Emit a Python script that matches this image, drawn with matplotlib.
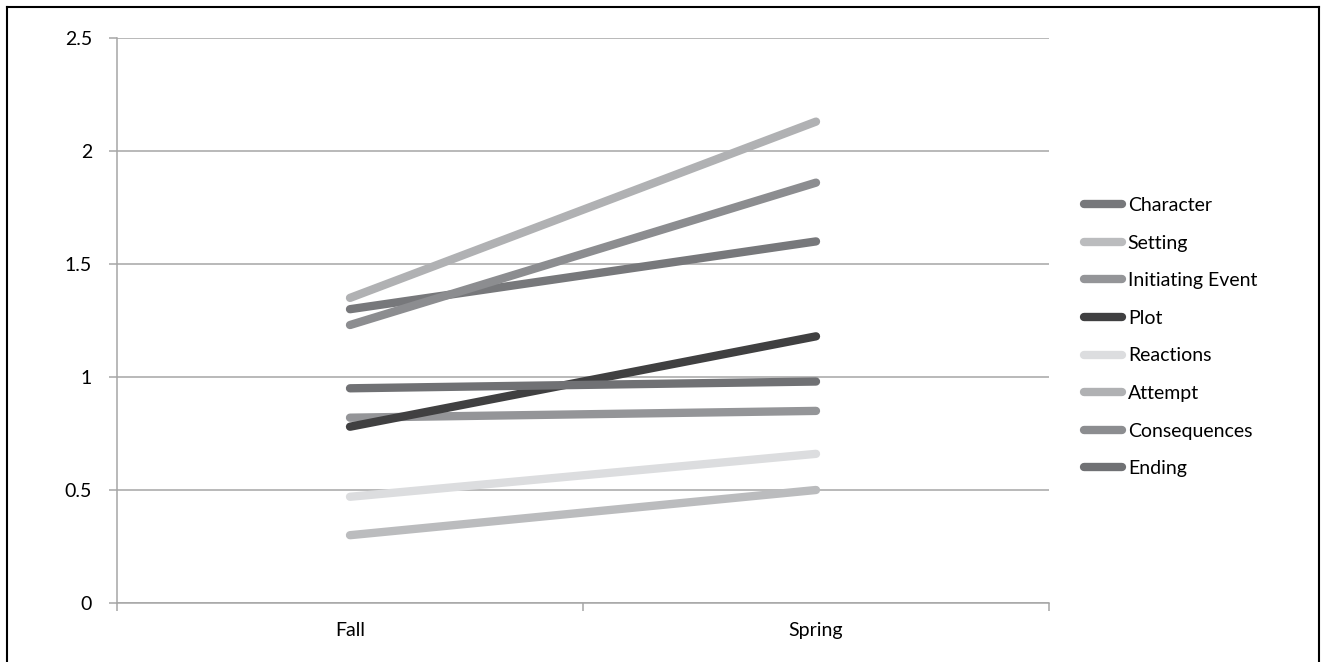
import matplotlib.pyplot as plt
from matplotlib.lines import Line2D

plt.rcParams['font.family'] = ['Lato', 'DejaVu Sans']

# data
seasons = ['Fall', 'Spring']
series_names = ['Character', 'Setting', 'Initiating Event', 'Plot',
                'Reactions', 'Attempt', 'Consequences', 'Ending']
character = [1.30, 1.60]
setting = [0.30, 0.50]
initiating = [0.82, 0.85]
plot_vals = [0.78, 1.18]
reactions = [0.47, 0.66]
attempt = [1.35, 2.13]
consequences = [1.23, 1.86]
ending = [0.95, 0.98]
y_ticks = [0, 0.5, 1, 1.5, 2, 2.5]
y_tick_labels = ['0', '0.5', '1', '1.5', '2', '2.5']

all_series = [character, setting, initiating, plot_vals,
              reactions, attempt, consequences, ending]
colors = ['#77787b', '#bbbcbe', '#949598', '#404041',
          '#dcdddf', '#b0b1b3', '#8c8d90', '#707174']

W, H = 1323, 662
fig = plt.figure(figsize=(W / 100, H / 100), dpi=100)
ax = fig.add_axes([117 / W, 1 - 603 / H, (1049 - 117) / W, (603 - 38) / H])

grid_col = '#a6a6a6'
for v in y_ticks:
    ax.axhline(v, color=grid_col, lw=1.1, zorder=1)

x = list(range(len(seasons)))
for name, vals, c in zip(series_names, all_series, colors):
    ax.plot(x, vals, color=c, lw=6, solid_capstyle='round', label=name, zorder=3)

ax.set_xlim(-0.5, 1.5)
ax.set_ylim(0, 2.5)
ax.set_yticks(y_ticks)
ax.set_yticklabels(y_tick_labels)
ax.set_xticks(x)
ax.set_xticklabels(seasons)
ax.set_xticks([-0.5, 0.5, 1.5], minor=True)
ax.tick_params(axis='x', which='major', length=0, pad=14, labelsize=14)
ax.tick_params(axis='x', which='minor', length=6, color=grid_col, width=1.1)
ax.tick_params(axis='y', length=6, color=grid_col, width=1.1, pad=12, labelsize=14)

for side in ['top', 'right']:
    ax.spines[side].set_visible(False)
for side in ['left', 'bottom']:
    ax.spines[side].set_color(grid_col)
    ax.spines[side].set_linewidth(1.1)

handles = [Line2D([0], [0], color=c, lw=6, solid_capstyle='round') for c in colors]
fig.legend(handles, series_names, loc='upper left',
           bbox_to_anchor=(1084 / W, 1 - 197 / H), frameon=False,
           fontsize=14, handlelength=1.95, handletextpad=0.3,
           labelspacing=1.06, borderaxespad=0, borderpad=0)

# black frame around the figure (no bottom edge)
fig.add_artist(Line2D([6.5 / W, 6.5 / W], [0, 1 - 6.5 / H], color='black', lw=1.5))
fig.add_artist(Line2D([6.5 / W, 1318.5 / W], [1 - 6.5 / H, 1 - 6.5 / H], color='black', lw=1.5))
fig.add_artist(Line2D([1318.5 / W, 1318.5 / W], [0, 1 - 6.5 / H], color='black', lw=1.5))

fig.savefig('out.png', dpi=100)
